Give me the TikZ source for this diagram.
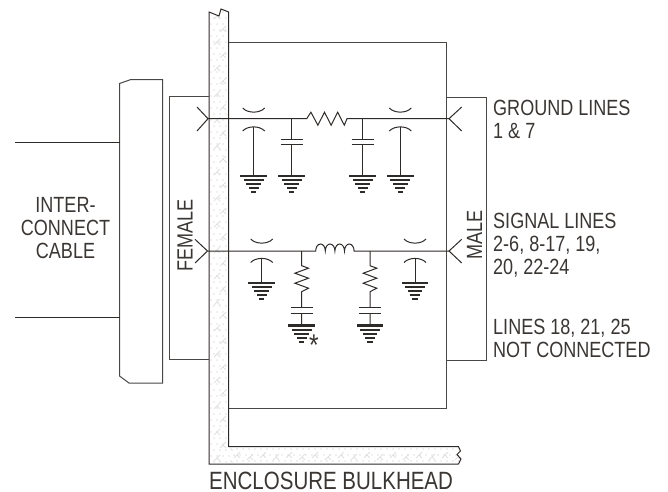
\documentclass[tikz,border=0pt]{standalone}
\usepackage{fontspec}
\setmainfont{Liberation Sans}[FakeStretch=0.82]
\usetikzlibrary{calc}
\definecolor{ln}{HTML}{2E2A28}
\definecolor{shell}{HTML}{4A4644}
\definecolor{txt}{HTML}{3A3634}
\definecolor{wallmark}{HTML}{E0E0E0}
\tikzset{
  x=1pt,y=-1pt,
  wire/.style={draw=ln,line width=1pt},
  box/.style={draw=shell,line width=1pt},
  plate/.style={draw=ln,line width=1pt},
  lbl/.style={inner sep=0pt,font=\fontsize{22}{23}\selectfont,text=txt},
  pics/gnd/.style={code={
    \fill[ln] (-13.3,0) rectangle (13.3,2.4);
    \fill[ln] (-10,4.2) rectangle (10,6.2);
    \fill[ln] (-7.3,8.2) rectangle (7.3,10.2);
    \fill[ln] (-5,12.2) rectangle (5,14.2);
    \fill[ln] (-2.7,16.2) rectangle (2.7,18.4);
  }},
  pics/capv/.style={code={
    \draw[plate] (-11,0) -- (11,0) (-11,5.6) -- (11,5.6);
  }},
  pics/feedarcs/.style n args={2}{code={
    \draw[plate] (-11,#1) .. controls (-6,#1+5.5) and (6,#1+5.5) .. (11,#1);
    \draw[plate] (-11,#2) .. controls (-6,#2-5.5) and (6,#2-5.5) .. (11,#2);
  }},
}
\begin{document}
\begin{tikzpicture}
\useasboundingbox (0,0) rectangle (668,491);
% wall
\coordinate (wTL) at (209,12);
\coordinate (wTN) at (219,16);
\coordinate (wTP) at (221,9);
\coordinate (wTR) at (228.7,12);
\coordinate (wIC) at (228.7,446.7);
\coordinate (wIE) at (458.5,446.7);
\coordinate (wOE) at (458.5,464);
\coordinate (wBL) at (209,464);
\begin{scope}
\clip (wTL) -- (wTN) -- (wTP) -- (wTR) -- (wIC) -- (wIE) -- (460.5,451) -- (457,454.5) -- (461,459) -- (wOE) -- (wBL) -- cycle;
\foreach \yy in {0,1,...,75}{
  \foreach \xx in {0,1,2,3}{
    \fill[wallmark] ({211+\xx*6+mod(\yy,2)*3},{12+\yy*6}) circle (0.8);
  }
}
\foreach \yy in {0,1,...,34}{
  \draw[wallmark,line width=.8pt] ({214+mod(\yy,2)*6},{19+\yy*13}) -- ++(6,-6) ++(-3,3) -- ++(3,3);
}
\foreach \yy in {0,1,2}{
  \foreach \xx in {0,1,...,38}{
    \fill[wallmark] ({231+\xx*6+mod(\yy,2)*3},{449+\yy*6}) circle (0.8);
  }
}
\foreach \xx in {0,1,...,17}{
  \draw[wallmark,line width=.8pt] ({234+\xx*13},{458+mod(\xx,2)*2}) -- ++(6,-6) ++(-3,3) -- ++(3,3);
}
\end{scope}
\draw[box,draw=ln,line join=miter] (wOE) -- (wBL) -- (wTL) -- (wTN) -- (wTP) -- (wTR) -- (wIC) -- (wIE) -- (460.5,451) -- (457,454.5) -- (461,459) -- (wOE);
% enclosure
\coordinate (eTL) at (228.7,42);
\coordinate (eTR) at (446.7,42);
\coordinate (eBR) at (446.7,408);
\coordinate (eBL) at (228.7,408);
\draw[box] (eTL) -- (eTR) -- (eBR) -- (eBL);
% male/female shells
\draw[box] (209,96.7) -- (169,96.7) -- (169,359.7) -- (209,359.7);
\draw[box] (446.7,97) -- (486,97) -- (486,360) -- (446.7,360);
% cable
\draw[box] (119.5,83.5) -- (131,79.5) -- (162.5,79.5) -- (162.5,383) -- (129,383) -- (119.5,376) -- cycle;
\coordinate (cabA) at (119.5,142); \coordinate (cabAe) at (15,142);
\coordinate (cabB) at (119.5,317); \coordinate (cabBe) at (15,317);
\draw[wire] (cabAe) -- (cabA);
\draw[wire] (cabBe) -- (cabB);

% GROUND LINE
\coordinate (gL) at (208,118.7);
\coordinate (gR) at (449,118.7);
\coordinate (rA) at (306.7,118.7);
\coordinate (rB) at (347,118.7);
\draw[wire] (197,107) -- (gL) -- (197,131);
\draw[wire] (461.7,107) -- (gR) -- (461.7,131);
\draw[wire] (gL) -- (rA) -- ++(4.2,-6.5) -- ++(7,13) -- ++(6.6,-13) -- ++(6.6,13) -- ++(6.6,-13) -- ++(6.6,13) -- (rB) -- (gR);
% ground feedthrough and caps
\foreach \n/\x in {a/253.7,d/400.3}{
  \pic at (\x,0) {feedarcs={108}{131}};
  \coordinate (g\n) at (\x,174.5);
  \draw[wire] (\x,127) -- (g\n);
  \pic at (g\n) {gnd};
}
\foreach \n/\x in {b/291.7,c/362.7}{
  \coordinate (t\n) at (\x,118.7);
  \coordinate (g\n) at (\x,174.5);
  \draw[wire] (t\n) -- (\x,139.3) (\x,145) -- (g\n);
  \pic at (\x,139.3) {capv};
  \pic at (g\n) {gnd};
}

% SIGNAL LINE
\coordinate (sL) at (207.5,251);
\coordinate (sR) at (449,251);
\coordinate (lA) at (315.7,251);
\coordinate (lB) at (354,251);
\draw[wire] (195,239.3) -- (sL) -- (195,263);
\draw[wire] (461.7,239.3) -- (sR) -- (461.7,263);
\draw[wire] (sL) -- (lA)
  arc[start angle=180,end angle=0,x radius=4.8,y radius=-7]
  arc[start angle=180,end angle=0,x radius=4.8,y radius=-7]
  arc[start angle=180,end angle=0,x radius=4.8,y radius=-7]
  arc[start angle=180,end angle=0,x radius=4.8,y radius=-7]
  -- (sR);
\foreach \n/\x in {e/261.7,h/415}{
  \pic at (\x,0) {feedarcs={239}{262.5}};
  \coordinate (g\n) at (\x,281.7);
  \draw[wire] (\x,258) -- (g\n);
  \pic at (g\n) {gnd};
}
\foreach \n/\x in {f/301.7,j/370}{
  \coordinate (t\n) at (\x,251);
  \coordinate (g\n) at (\x,324.3);
  \draw[wire] (t\n) -- (\x,265.7) -- ++(6.8,2.5) -- ++(-13.6,5) -- ++(13.6,5) -- ++(-13.6,5) -- ++(13.6,5) -- ++(-6.8,3.5) -- (\x,307.7) (\x,313.3) -- (g\n);
  \pic at (\x,307.7) {capv};
  \pic at (g\n) {gnd};
}
\node[lbl,anchor=base,font=\fontsize{30}{30}\selectfont] (star) at (314,355) {*};

% Labels
\node[lbl,anchor=base west] (t1) at (493,115) {GROUND LINES};
\node[lbl,anchor=base west] (t2) at (493,138) {1 \& 7};
\node[lbl,anchor=base west] (t3) at (493,228) {SIGNAL LINES};
\node[lbl,anchor=base west] (t4) at (493,251) {2-6, 8-17, 19,};
\node[lbl,anchor=base west] (t5) at (493,274) {20, 22-24};
\node[lbl,anchor=base west] (t6) at (493,334) {LINES 18, 21, 25};
\node[lbl,anchor=base west] (t7) at (493,357) {NOT CONNECTED};
\node[lbl,anchor=base] (c1) at (65.5,212) {INTER-};
\node[lbl,anchor=base] (c2) at (65.5,235) {CONNECT};
\node[lbl,anchor=base] (c3) at (65.5,258) {CABLE};
\node[lbl,rotate=90] (fem) at (185,235.5) {FEMALE};
\node[lbl,rotate=90] (mal) at (474.5,235) {MALE};
\node[lbl,anchor=base west,font=\fontsize{25}{25}\selectfont] (bulk) at (209,489) {ENCLOSURE BULKHEAD};
\end{tikzpicture}
\end{document}
